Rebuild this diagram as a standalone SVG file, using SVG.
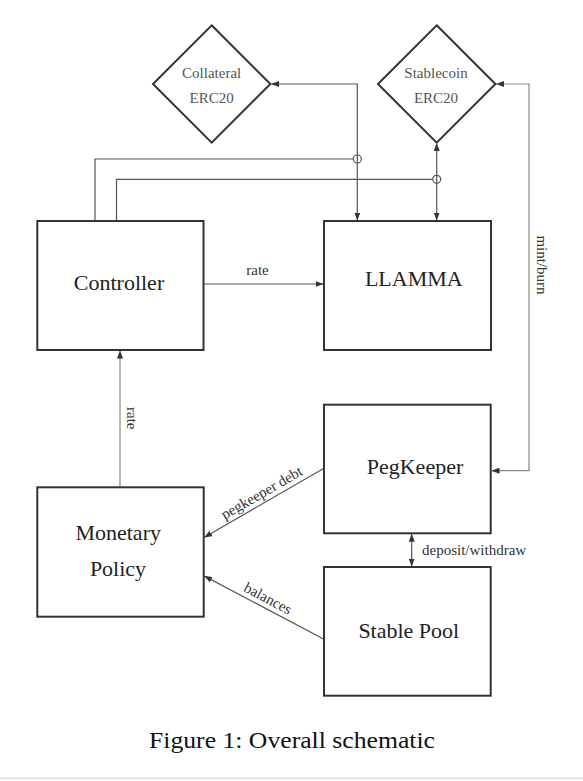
<svg xmlns="http://www.w3.org/2000/svg" width="583" height="781" viewBox="0 0 583 781">
<style>
.box{fill:#fff;stroke:#333;stroke-width:2}
.dia{fill:#fff;stroke:#333;stroke-width:2}
.nt{font-family:"Liberation Serif","Times New Roman",serif;font-size:22px;fill:#222;text-anchor:middle}
.dt{font-family:"Liberation Serif","Times New Roman",serif;font-size:15px;fill:#555;text-anchor:middle}
.el{font-family:"Liberation Serif","Times New Roman",serif;font-size:15px;fill:#333}
.c{fill:none;stroke:#555;stroke-width:1.2}
.cl{fill:none;stroke:#888;stroke-width:1.2}
.ah{marker-end:url(#arr)}
.ah2{marker-start:url(#arr);marker-end:url(#arr)}
</style>
<defs>
<marker id="arr" markerUnits="userSpaceOnUse" markerWidth="8" markerHeight="6" refX="7.5" refY="3" orient="auto-start-reverse">
<path d="M0,0 L8,3 L0,6 z" fill="#333"/>
</marker>
</defs>
<rect width="583" height="781" fill="#fff"/>

<g id="connectors">
<line class="c ah" x1="203.5" y1="284" x2="323" y2="284"/>
<text class="el" x="257.5" y="274.5" text-anchor="middle">rate</text>
<path class="c" d="M95,221 V159 H353.3"/>
<circle class="c" cx="357.3" cy="159" r="4"/>
<path class="c" d="M116.5,221 V179.3 H432.7"/>
<circle class="c" cx="436.7" cy="179.3" r="4"/>
<path class="c ah2" d="M357.3,220 V84 H271.5"/>
<line class="c ah2" x1="436.7" y1="220" x2="436.7" y2="143.5"/>
<path class="cl ah2" d="M492,470.7 H529 V84 H496.5"/>
<text class="el" x="265" y="-537" text-anchor="middle" transform="rotate(90)">mint/burn</text>
<line class="c ah2" x1="411.7" y1="566" x2="411.7" y2="534.3"/>
<text class="el" x="422" y="555">deposit/withdraw</text>
<line class="cl ah" x1="120" y1="487.3" x2="120" y2="351"/>
<text class="el" x="418.3" y="-127" text-anchor="middle" transform="rotate(90)">rate</text>
<line class="c ah" x1="324" y1="468.3" x2="204.5" y2="537.2"/>
<text class="el" text-anchor="middle" transform="translate(266.7,501.4) rotate(-30) translate(0,-5)">pegkeeper debt</text>
<line class="c ah" x1="324" y1="639.3" x2="204.5" y2="576.1"/>
<text class="el" text-anchor="middle" transform="translate(263.3,607.2) rotate(27.9) translate(0,-5)">balances</text>
</g>

<g id="collateral">
<polygon class="dia" points="211.7,25.3 270.4,84 211.7,142.7 153,84"/>
<text class="dt" x="211.7" y="78">Collateral</text>
<text class="dt" x="211.7" y="103">ERC20</text>
</g>
<g id="stablecoin">
<polygon class="dia" points="436.7,25.3 495.4,84 436.7,142.7 378,84"/>
<text class="dt" x="436" y="78.3">Stablecoin</text>
<text class="dt" x="436" y="103.3">ERC20</text>
</g>
<g id="controller">
<rect class="box" x="37.3" y="221" width="166.2" height="129"/>
<text class="nt" x="119" y="290">Controller</text>
</g>
<g id="llamma">
<rect class="box" x="324" y="221" width="167" height="129"/>
<text class="nt" x="413.8" y="286">LLAMMA</text>
</g>
<g id="pegkeeper">
<rect class="box" x="324" y="404.7" width="166.7" height="128.6"/>
<text class="nt" x="415" y="474">PegKeeper</text>
</g>
<g id="stablepool">
<rect class="box" x="324" y="567" width="166.7" height="128.7"/>
<text class="nt" x="408.8" y="637.7">Stable Pool</text>
</g>
<g id="monetary">
<rect class="box" x="37.3" y="487.3" width="166.4" height="129.4"/>
<text class="nt" x="118.2" y="540">Monetary</text>
<text class="nt" x="118" y="576">Policy</text>
</g>
<text x="149" y="748" font-family="'Liberation Serif','Times New Roman',serif" font-size="23" fill="#111" textLength="286" lengthAdjust="spacingAndGlyphs">Figure 1:  Overall schematic</text>
<line x1="0" y1="778.5" x2="583" y2="778.5" stroke="#ddd" stroke-width="1.5"/>
</svg>
